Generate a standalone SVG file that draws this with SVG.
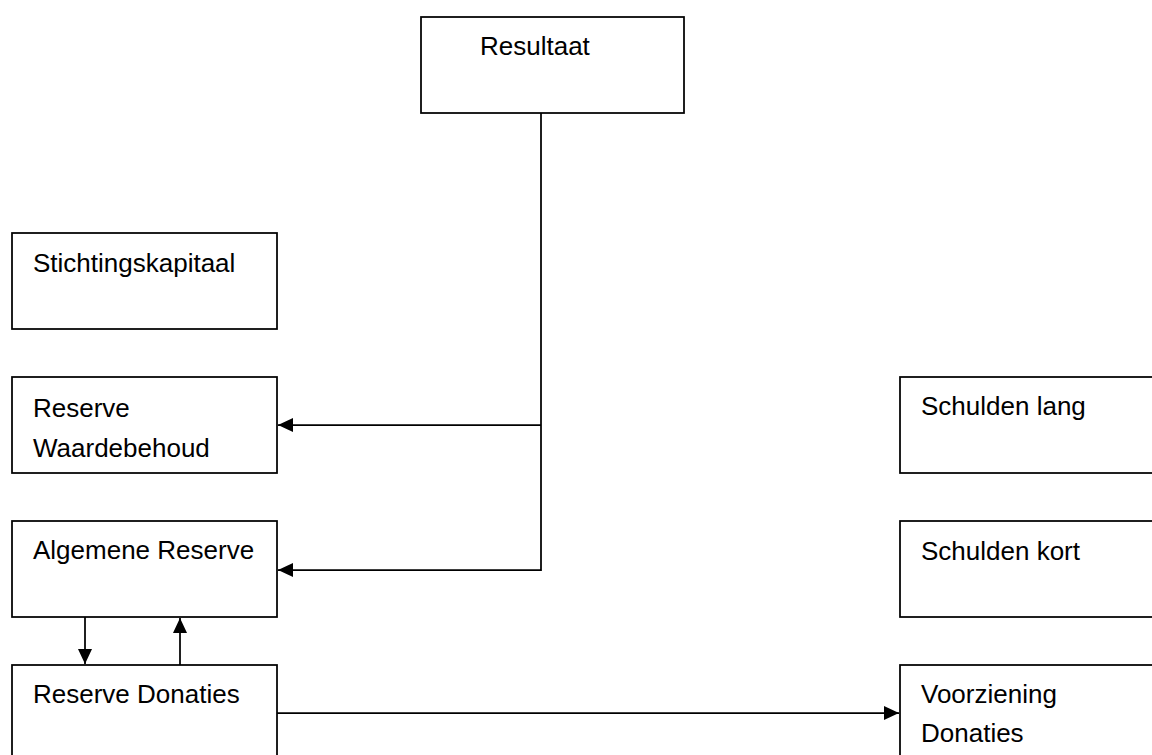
<svg xmlns="http://www.w3.org/2000/svg" width="1152" height="755" viewBox="0 0 1152 755">
<style>
.box{fill:#fff;stroke:#000;stroke-width:1.75}
.lbl{font-family:"Liberation Sans",Arial,sans-serif;font-size:26px;fill:#000}
.con{fill:none;stroke:#000;stroke-width:1.75}
</style>
<defs>
<marker id="ah" viewBox="0 0 15 14" refX="15" refY="7" markerWidth="15" markerHeight="14" markerUnits="userSpaceOnUse" orient="auto">
<path d="M0,0 L15,7 L0,14 Z" fill="#000"/>
</marker>
</defs>
<rect width="1152" height="755" fill="#fff"/>
<g id="connectors">
<polyline class="con" points="541,113 541,570 278,570" marker-end="url(#ah)"/>
<line class="con" x1="541" y1="425" x2="278" y2="425" marker-end="url(#ah)"/>
<line class="con" x1="85" y1="617" x2="85" y2="664" marker-end="url(#ah)"/>
<line class="con" x1="180" y1="665" x2="180" y2="618" marker-end="url(#ah)"/>
<line class="con" x1="277" y1="713" x2="899" y2="713" marker-end="url(#ah)"/>
</g>
<g id="resultaat">
<rect class="box" x="421" y="17" width="263" height="96"/>
<text class="lbl" x="480" y="55">Resultaat</text>
</g>
<g id="stichtingskapitaal">
<rect class="box" x="12" y="233" width="265" height="96"/>
<text class="lbl" x="33" y="272">Stichtingskapitaal</text>
</g>
<g id="reserve-waardebehoud">
<rect class="box" x="12" y="377" width="265" height="96"/>
<text class="lbl" x="33" y="417">Reserve</text>
<text class="lbl" x="33" y="457">Waardebehoud</text>
</g>
<g id="algemene-reserve">
<rect class="box" x="12" y="521" width="265" height="96"/>
<text class="lbl" x="33" y="559">Algemene Reserve</text>
</g>
<g id="reserve-donaties">
<rect class="box" x="12" y="665" width="265" height="100"/>
<text class="lbl" x="33" y="703">Reserve Donaties</text>
</g>
<g id="schulden-lang">
<rect class="box" x="900" y="377" width="265" height="96"/>
<text class="lbl" x="921" y="415">Schulden lang</text>
</g>
<g id="schulden-kort">
<rect class="box" x="900" y="521" width="265" height="96"/>
<text class="lbl" x="921" y="560">Schulden kort</text>
</g>
<g id="voorziening-donaties">
<rect class="box" x="900" y="665" width="265" height="100"/>
<text class="lbl" x="921" y="703">Voorziening</text>
<text class="lbl" x="921" y="742">Donaties</text>
</g>
</svg>
